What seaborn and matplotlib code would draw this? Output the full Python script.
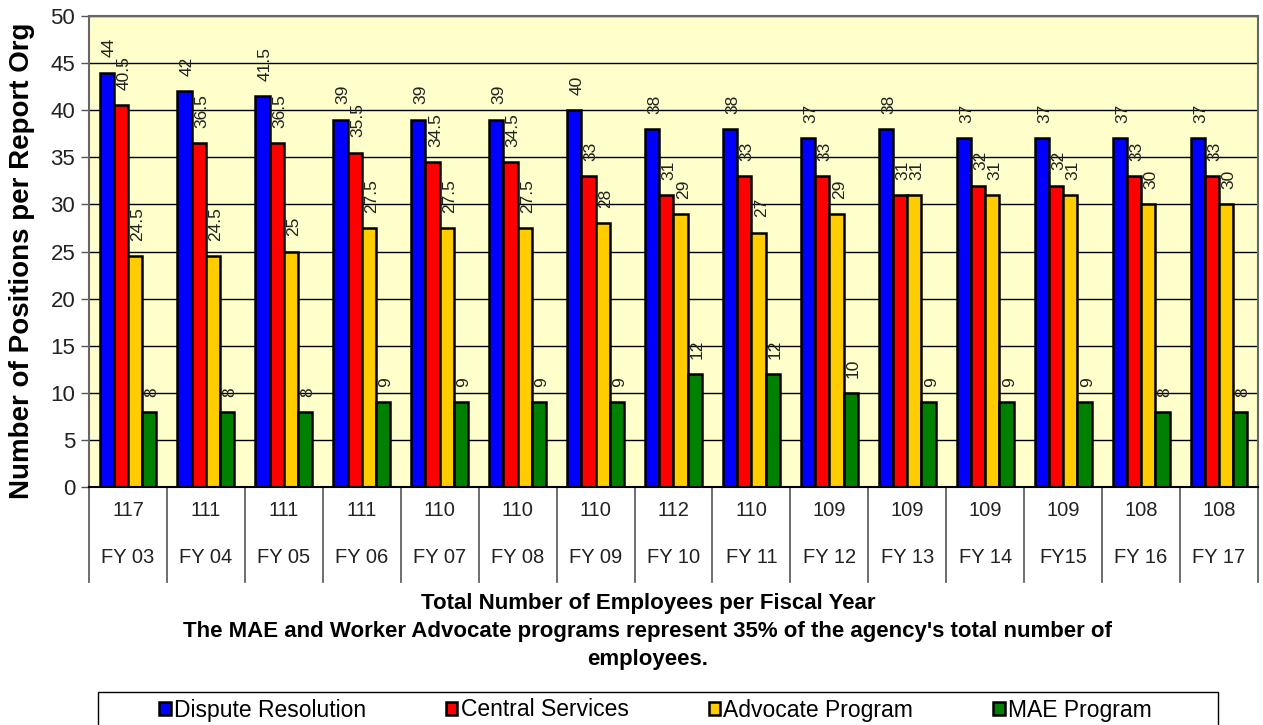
import seaborn as sns
import matplotlib.pyplot as plt
import matplotlib.transforms as mtransforms
from matplotlib.patches import Rectangle
import pandas as pd

# data
years = ["FY 03", "FY 04", "FY 05", "FY 06", "FY 07", "FY 08", "FY 09", "FY 10",
         "FY 11", "FY 12", "FY 13", "FY 14", "FY15", "FY 16", "FY 17"]
totals = [117, 111, 111, 111, 110, 110, 110, 112, 110, 109, 109, 109, 109, 108, 108]
dispute = [44, 42, 41.5, 39, 39, 39, 40, 38, 38, 37, 38, 37, 37, 37, 37]
central = [40.5, 36.5, 36.5, 35.5, 34.5, 34.5, 33, 31, 33, 33, 31, 32, 32, 33, 33]
advocate = [24.5, 24.5, 25, 27.5, 27.5, 27.5, 28, 29, 27, 29, 31, 31, 31, 30, 30]
mae = [8, 8, 8, 9, 9, 9, 9, 12, 12, 10, 9, 9, 9, 8, 8]

series = ["Dispute Resolution", "Central Services", "Advocate Program", "MAE Program"]
colors = ["#0000FF", "#FF0000", "#FFCC00", "#008000"]

df = pd.DataFrame({"year": years, series[0]: dispute, series[1]: central,
                   series[2]: advocate, series[3]: mae})
long = df.melt(id_vars="year", var_name="series", value_name="value")

plt.rcParams['font.family'] = ['Liberation Sans', 'DejaVu Sans']

fig = plt.figure(figsize=(12.63, 7.25), dpi=100)
ax = fig.add_axes([0.0705, 0.328, 0.9255, 0.650])

sns.barplot(data=long, x="year", y="value", hue="series", hue_order=series,
            palette=colors, width=0.73, gap=0, saturation=1,
            edgecolor="black", linewidth=1.8, ax=ax)

ax.set_facecolor("#FFFFCC")
ax.set_ylim(0, 50)
ax.set_xlim(-0.5, len(years) - 0.5)
ax.set_yticks(range(0, 51, 5))
ax.yaxis.grid(True, color="black", linewidth=1)
ax.set_axisbelow(True)
ax.tick_params(axis="y", labelsize=16, length=6, width=1, color="#555555",
               labelcolor="#222222", pad=4)
ax.tick_params(axis="x", length=0, labelbottom=False)
ax.set_xlabel("")
for s in ax.spines.values():
    s.set_color("#666666")
    s.set_linewidth(1.5)
ax.spines["bottom"].set_color("black")

ax.set_ylabel("Number of Positions per Report Org", fontsize=20, fontweight="bold")
ax.yaxis.set_label_coords(-0.046, 0.48)

# value labels
for cont in ax.containers:
    texts = ax.bar_label(cont, fmt="%g", rotation=90, padding=11, fontsize=12.5,
                         color="#222222")
    for t in texts:
        t.xyann = (2, 11)

# table under the axis
trans = mtransforms.blended_transform_factory(ax.transData, ax.transAxes)
for i, (yr, tot) in enumerate(zip(years, totals)):
    ax.text(i, -0.049, str(tot), transform=trans, ha="center", va="center",
            fontsize=14.5, color="#222222")
    ax.text(i, -0.149, yr, transform=trans, ha="center", va="center",
            fontsize=14.5, color="#222222")
for i in range(len(years) + 1):
    ax.plot([i - 0.5, i - 0.5], [0, -0.202], transform=trans, color="#555555",
            linewidth=1.2, clip_on=False)

# captions
cap = dict(ha="center", va="center", fontsize=16, fontweight="bold")
fig.text(0.513, 1 - 604 / 725, "Total Number of Employees per Fiscal Year", **cap)
fig.text(0.513, 1 - 632 / 725,
         "The MAE and Worker Advocate programs represent 35% of the agency's total number of", **cap)
fig.text(0.513, 1 - 660 / 725, "employees.", **cap)

# legend with its own frame box
handles, labels = ax.get_legend_handles_labels()
ax.legend_.remove()
fig.legend(handles, labels, ncol=4, loc="center", bbox_to_anchor=(0.519, 1 - 710 / 725),
           fontsize=16.5, frameon=False, handlelength=0.5, handleheight=0.5,
           handletextpad=0.15, columnspacing=3.48, borderaxespad=0)
fig.patches.append(Rectangle((98 / 1263, -0.02), 1120 / 1263, 1 - 692 / 725 + 0.02,
                             transform=fig.transFigure, fill=False,
                             edgecolor="black", linewidth=1))

fig.savefig("out.png", dpi=100)
